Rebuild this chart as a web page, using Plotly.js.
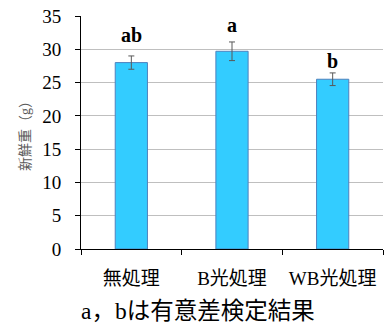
<!DOCTYPE html>
<html><head><meta charset="utf-8">
<script src="https://cdn.plot.ly/plotly-3.0.1.min.js"></script>
<style>html,body{margin:0;padding:0;background:#fff}#c{width:384px;height:323px}</style>
</head><body><div id="c"></div>
<script>
const categories = ["無処理", "B光処理", "WB光処理"];
const values = [28.0, 29.7, 25.5];
const errors = [1.0, 1.4, 0.95];
const sigLabels = ["ab", "a", "b"];
const sigLabelY = [32.1, 33.7, 28.2];
const yTicks = [0, 5, 10, 15, 20, 25, 30, 35];

const serif = 'Liberation Serif, Times New Roman, Noto Sans CJK JP, serif';

const trace = {
  type: 'bar',
  x: categories,
  y: values,
  width: 0.32,
  marker: {color: '#33CCFF', line: {color: '#4F81BD', width: 1}},
  error_y: {type: 'data', array: errors, visible: true, color: '#595959', thickness: 1, width: 3}
};

const annotations = sigLabels.map((t, i) => ({
  x: categories[i], y: sigLabelY[i], xref: 'x', yref: 'y',
  text: '<b>' + t + '</b>', showarrow: false, yanchor: 'middle',
  font: {family: serif, size: 20, color: '#000'}
}));
annotations.push({
  xref: 'paper', yref: 'paper', x: -0.007, y: 0, xanchor: 'left', yanchor: 'top', yshift: -47,
  text: 'a，bは有意差検定結果', showarrow: false,
  font: {family: serif, size: 23.5, color: '#000'}
});

const layout = {
  width: 384, height: 323,
  margin: {l: 81, r: 1, t: 16, b: 74},
  paper_bgcolor: '#fff', plot_bgcolor: '#fff',
  showlegend: false,
  font: {family: serif, color: '#000'},
  xaxis: {
    type: 'category', tickson: 'boundaries', ticks: 'outside', ticklen: 5, tickcolor: '#000',
    showline: true, linecolor: '#000', linewidth: 1, showgrid: false,
    ticklabelstandoff: 12,
    tickfont: {family: serif, size: 19, color: '#000'}
  },
  yaxis: {
    range: [0, 35], tickvals: yTicks, ticks: 'outside', ticklen: 5, tickcolor: '#000',
    showline: true, linecolor: '#000', linewidth: 1,
    showgrid: true, gridcolor: '#BFBFBF', gridwidth: 1, zeroline: false,
    ticklabelstandoff: 10,
    tickfont: {family: serif, size: 19, color: '#000'},
    title: {text: '新鮮重（g）', font: {family: serif, size: 14, color: '#595959'}, standoff: 8}
  },
  annotations: annotations
};

Plotly.newPlot('c', [trace], layout, {displayModeBar: false, staticPlot: true});
</script></body></html>
